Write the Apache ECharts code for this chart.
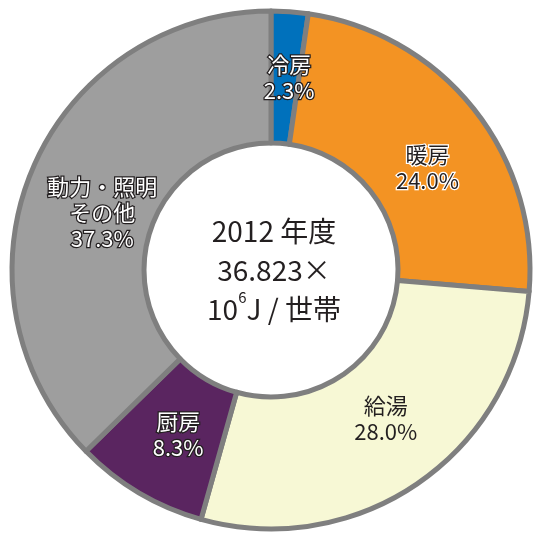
<!DOCTYPE html>
<html><head><meta charset="utf-8">
<script src="https://cdn.jsdelivr.net/npm/echarts@6/dist/echarts.min.js"></script>
<style>html,body{margin:0;padding:0;background:#fff}#c{width:548px;height:540px}</style>
</head><body><div id="c"></div>
<script>
const categories = ['冷房', '暖房', '給湯', '厨房', '動力・照明\nその他'];
const values = [2.3, 24.0, 28.0, 8.3, 37.3];
const centerLines = ['2012 年度', '36.823×', '10', '6', 'J / 世帯'];

const palette = ['#0071BC', '#F39323', '#F7F8D5', '#5A2560', '#9E9E9E'];
const labelFill = ['#fff', '#231f20', '#231f20', '#fff', '#fff'];
const labelStroke = ['#231f20', '#fff', 'transparent', '#231f20', '#231f20'];
const labelShift = [[4, 3], [3, 20], [3, -12], [7, -4], [12, 19]];
const FONT = '"Noto Sans CJK JP", "Noto Sans", sans-serif';

const chart = echarts.init(document.getElementById('c'));
chart.setOption({
  animation: false,
  backgroundColor: '#fff',
  title: {
    text: '{a|' + centerLines[0] + '}\n{a|' + centerLines[1] + '}\n{a|' + centerLines[2] + '}{s|' + centerLines[3] + '}{a|' + centerLines[4] + '}',
    left: 'center', top: 'middle',
    textStyle: {
      fontWeight: 'normal',
      rich: {
        a: { fontFamily: FONT, fontSize: 28, fontWeight: 'normal', color: '#231f20', lineHeight: 39 },
        s: { fontFamily: FONT, fontSize: 15, fontWeight: 'normal', color: '#231f20', lineHeight: 39, verticalAlign: 'top', padding: [0, 0, 12, 0] }
      }
    }
  },
  series: [{
    type: 'pie',
    center: [271, 270],
    radius: [127, 259],
    startAngle: 90,
    clockwise: true,
    avoidLabelOverlap: false,
    itemStyle: { borderColor: '#7F7F7F', borderWidth: 5 },
    labelLine: { show: false },
    labelLayout: p => ({ dx: labelShift[p.dataIndex][0], dy: labelShift[p.dataIndex][1] }),
    data: categories.map((n, i) => ({
      name: n, value: values[i],
      itemStyle: { color: palette[i] },
      label: {
        show: true,
        position: 'inside',
        fontFamily: FONT,
        fontSize: 22,
        lineHeight: 26,
        formatter: p => p.name + '\n' + p.value.toFixed(1) + '%',
        color: labelFill[i],
        textBorderColor: labelStroke[i],
        textBorderWidth: labelStroke[i] === 'transparent' ? 0 : 2.5
      }
    }))
  }]
});
</script></body></html>
